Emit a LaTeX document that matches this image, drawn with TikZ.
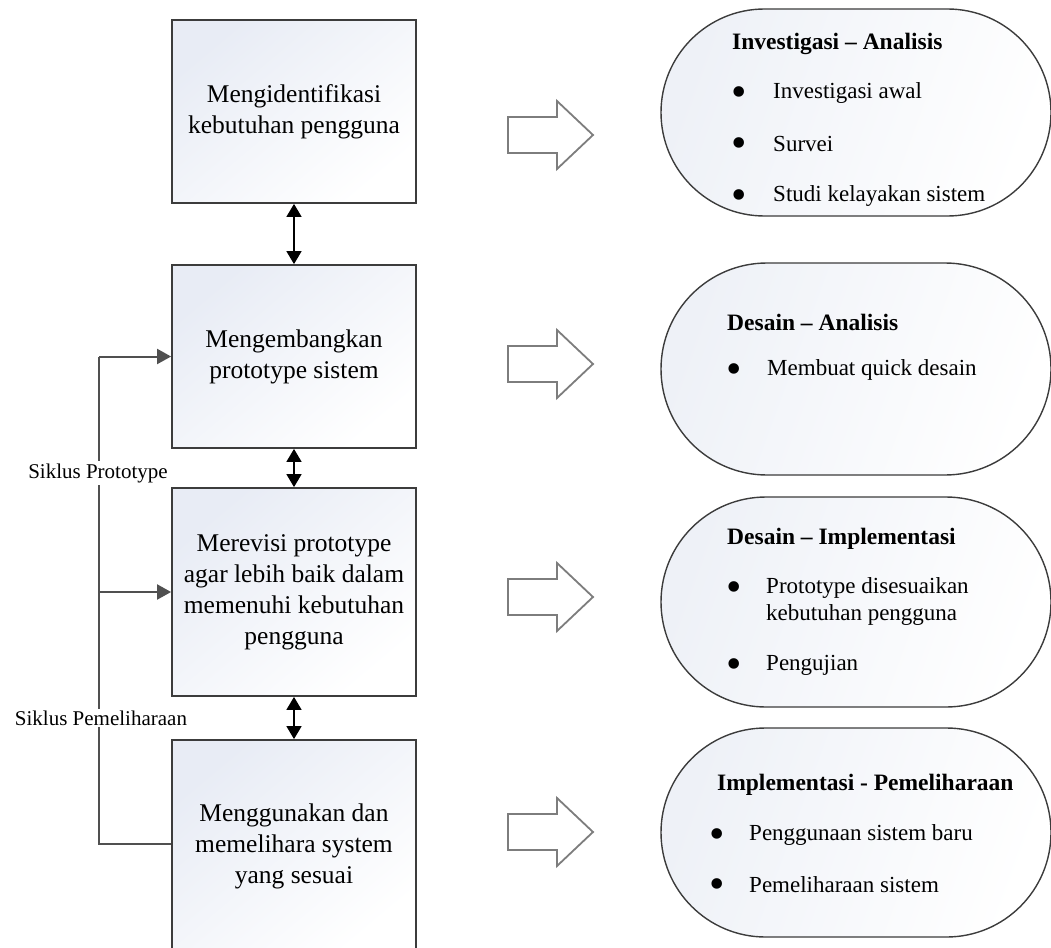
\documentclass[tikz,border=0pt]{standalone}
\usepackage{fontspec}
\setmainfont{Liberation Serif}
\usetikzlibrary{arrows.meta,shapes.misc,calc}
\definecolor{bfill}{RGB}{232,236,245}
\definecolor{sfill}{RGB}{238,241,247}
\definecolor{edgec}{RGB}{60,60,60}
\definecolor{loopc}{RGB}{80,80,80}
\definecolor{holc}{RGB}{125,125,125}
\begin{document}
\begin{tikzpicture}[x=1pt,y=-1pt,
  box/.style={draw=edgec, line width=1.8pt, shading=axis, top color=bfill, bottom color=white, shading angle=40,
    minimum width=244pt, align=center, inner sep=0pt, font=\fontsize{25.5}{31}\selectfont},
  stad/.style={rounded rectangle, draw=edgec, line width=1.4pt, shading=axis, top color=sfill, bottom color=white, shading angle=70,
    minimum width=390pt, inner sep=0pt},
  ttl/.style={anchor=west, inner sep=0pt, font=\bfseries\fontsize{23.5}{27}\selectfont},
  itm/.style={anchor=west, inner sep=0pt, font=\fontsize{23}{27}\selectfont},
  bul/.style={inner sep=0pt, yshift=-4pt, font=\fontsize{44}{44}\selectfont},
  dbl/.style={line width=1.6pt, {Triangle[length=13pt,width=15pt]}-{Triangle[length=13pt,width=15pt]}},
  loopline/.style={draw=loopc, line width=2pt},
  looparr/.style={loopline, -{Triangle[length=14pt,width=15pt]}},
  lbl/.style={fill=white, inner sep=2pt, font=\fontsize{21}{24}\selectfont},
  hollow/.style={draw=holc, line width=1.8pt, fill=white, line join=miter}
]
\useasboundingbox (0,0) rectangle (1051,947);
\begin{scope}
\clip (0,0) rectangle (1051,947);

% left boxes
\node[box, minimum height=183pt] (b1) at (294,111.5) {Mengidentifikasi\\kebutuhan pengguna};
\node[box, minimum height=183pt] (b2) at (294,356.5) {Mengembangkan\\prototype sistem};
\node[box, minimum height=208pt] (b3) at (294,592) {Merevisi prototype\\agar lebih baik dalam\\memenuhi kebutuhan\\pengguna};
\node[box, minimum height=212pt] (b4) at (294,846) {Menggunakan dan\\memelihara system\\yang sesuai};

% double arrows
\draw[dbl] (b1.south) -- (b2.north);
\draw[dbl] (b2.south) -- (b3.north);
\draw[dbl] (b3.south) -- (b4.north);

% loop
\coordinate (ltop) at (99,356.5);
\coordinate (lbot) at (99,844);
\draw[loopline] ($(b4.west)+(0,-2)$) -- (lbot) -- (ltop);
\draw[looparr] (ltop) -- (b2.west);
\draw[looparr] (ltop |- b3.west) -- (b3.west);
\node[lbl] (lp) at (98,473) {Siklus Prototype};
\node[lbl] (lm) at (101,718) {Siklus Pemeliharaan};

% hollow arrows
\foreach \c in {135,364,597,832}{
  \draw[hollow] (508,\c-18) -- (557,\c-18) -- (557,\c-34) -- (593,\c) -- (557,\c+34) -- (557,\c+18) -- (508,\c+18) -- cycle;
}

% stadiums
\node[stad, minimum height=207pt] (s1) at (856,112.5) {};
\node[stad, minimum height=212pt] (s2) at (856,369) {};
\node[stad, minimum height=210pt] (s3) at (856,602) {};
\node[stad, minimum height=209pt] (s4) at (856,832.5) {};

% stadium 1
\node[ttl] (t1) at (732,44) {Investigasi – Analisis};
\node[bul] (p11) at (739,93) {•};
\node[itm] (i11) at (773,93) {Investigasi awal};
\node[bul] (p12) at (739,144) {•};
\node[itm] (i12) at (773,144) {Survei};
\node[bul] (p13) at (739,196) {•};
\node[itm] (i13) at (773,196) {Studi kelayakan sistem};

% stadium 2
\node[ttl] (t2) at (727,322) {Desain – Analisis};
\node[bul] (p21) at (734,370) {•};
\node[itm] (i21) at (767,370) {Membuat quick desain};

% stadium 3
\node[ttl] (t3) at (727,539) {Desain – Implementasi};
\node[bul] (p31) at (734,588) {•};
\node[itm] (i31) at (766,588) {Prototype disesuaikan};
\node[itm] (i32) at (766,615) {kebutuhan pengguna};
\node[bul] (p32) at (734,665) {•};
\node[itm] (i33) at (766,665) {Pengujian};

% stadium 4
\node[ttl] (t4) at (717,785) {Implementasi - Pemeliharaan};
\node[bul] (p41) at (717,835) {•};
\node[itm] (i41) at (749,835) {Penggunaan sistem baru};
\node[bul] (p42) at (717,885) {•};
\node[itm] (i42) at (749,885) {Pemeliharaan sistem};
\end{scope}
\end{tikzpicture}
\end{document}
